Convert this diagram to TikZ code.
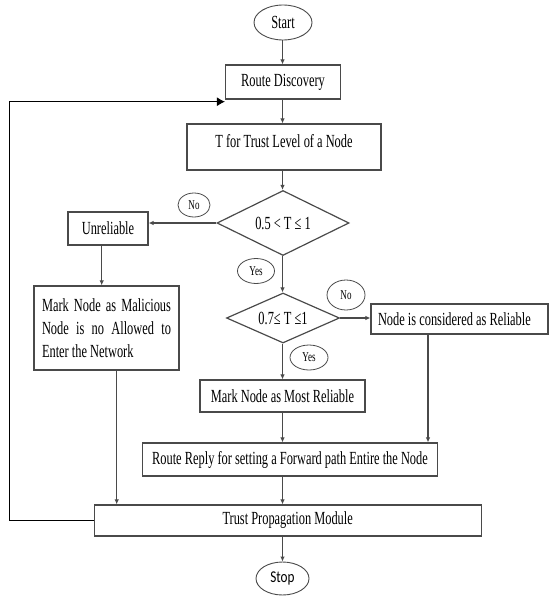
\documentclass[tikz,border=0pt]{standalone}
\usepackage{fontspec}
\setmainfont{Liberation Serif}[FakeStretch=0.67]
\newfontfamily\stopfont{Carlito}[FakeStretch=0.8]
\usetikzlibrary{shapes.geometric,arrows.meta}
\definecolor{edge}{HTML}{4A4A4A}
\begin{document}
\begin{tikzpicture}[x=1pt,y=-1pt,
  every node/.style={font=\fontsize{18.5}{23}\selectfont, inner sep=0pt},
  box/.style={draw=edge, line width=1.2pt, rectangle},
  oval/.style={draw=edge, line width=0.9pt, ellipse},
  lbl/.style={draw=edge, line width=0.8pt, ellipse, font=\fontsize{13.5}{15}\selectfont},
  dia/.style={draw=edge, line width=1.2pt, diamond, aspect=2},
  arr/.style={draw=edge, line width=1.1pt, -{Latex[length=5pt,width=4.5pt]}},
  back/.style={draw=black, line width=0.9pt, -{Latex[length=8pt,width=9pt]}}]
\useasboundingbox (0,0) rectangle (550,596);
\coordinate (ax) at (282.5,0);
\node[oval, minimum width=58pt, minimum height=35pt] (start) at (283,22.5) {Start};
\node[box, minimum width=115pt, minimum height=34pt] (rd) at (283,82) {Route Discovery};
\node[box, minimum width=194pt, text height=23pt, text depth=23pt] (tl) at (284,147) {T for Trust Level of a Node};
\node[dia, minimum width=132pt, minimum height=65pt] (d1) at (283,223) {0.5 < T ≤ 1};
\node[lbl, minimum width=32pt, minimum height=24pt] (no1) at (194,205) {No};
\node[lbl, minimum width=37pt, minimum height=25pt] (yes1) at (256,271) {Yes};
\node[box, minimum width=80pt, minimum height=33pt] (unrel) at (108,228.5) {Unreliable};
\node[box, minimum width=145pt, minimum height=84pt, align=left] (mal) at (106.5,328)
  {\makebox[129pt][s]{Mark Node as Malicious}\\\makebox[129pt][s]{Node is no Allowed to}\\\makebox[129pt][l]{Enter the Network}};
\node[dia, minimum width=113pt, minimum height=50pt] (d2) at (283,318) {0.7≤ T ≤1};
\node[lbl, minimum width=38pt, minimum height=30pt] (no2) at (346,295) {No};
\node[lbl, minimum width=38pt, minimum height=25pt] (yes2) at (309,357.5) {Yes};
\node[box, minimum width=177pt, minimum height=30pt] (rel) at (459.5,319) {\makebox[163pt][l]{Node is considered as Reliable}};
\node[box, minimum width=165pt, minimum height=32pt] (most) at (282.5,396) {Mark Node as Most Reliable};
\node[box, minimum width=295pt, minimum height=33pt] (rr) at (290,459.5) {Route Reply for setting a Forward path Entire the Node};
\node[box, minimum width=387pt, minimum height=31pt] (tpm) at (287.7,520.5) {Trust Propagation Module};
\node[oval, minimum width=53pt, minimum height=33pt, font=\stopfont\fontsize{16.5}{18}\selectfont] (stop) at (282.5,578.5) {Stop};
% connectors
\draw[arr] (start.south -| ax) -- (rd.north -| ax);
\draw[arr] (rd.south -| ax) -- (tl.north -| ax);
\draw[arr] (tl.south -| ax) -- (d1.north -| ax);
\draw[arr] (d1.west) -- (d1.west -| unrel.east);
\draw[arr] ([xshift=-6.3pt]unrel.south) -- ([xshift=-6.3pt]unrel.south |- mal.north);
\draw[arr] ([xshift=10.2pt]mal.south) -- ([xshift=10.2pt]mal.south |- tpm.north);
\draw[arr] (d1.south -| ax) -- (d2.north -| ax);
\draw[arr] (d2.east) -- (d2.east -| rel.west);
\draw[arr] (d2.south -| ax) -- (most.north -| ax);
\draw[arr] ([xshift=-31.5pt]rel.south) -- ([xshift=-31.5pt]rel.south |- rr.north);
\draw[arr] (most.south -| ax) -- (rr.north -| ax);
\draw[arr] (rr.south -| ax) -- (tpm.north -| ax);
\draw[arr] (tpm.south -| ax) -- (stop.north -| ax);
\coordinate (lp) at (9.3,101.7);
\draw[back] (tpm.west) -| (lp) -- (lp -| rd.west);
\end{tikzpicture}
\end{document}
